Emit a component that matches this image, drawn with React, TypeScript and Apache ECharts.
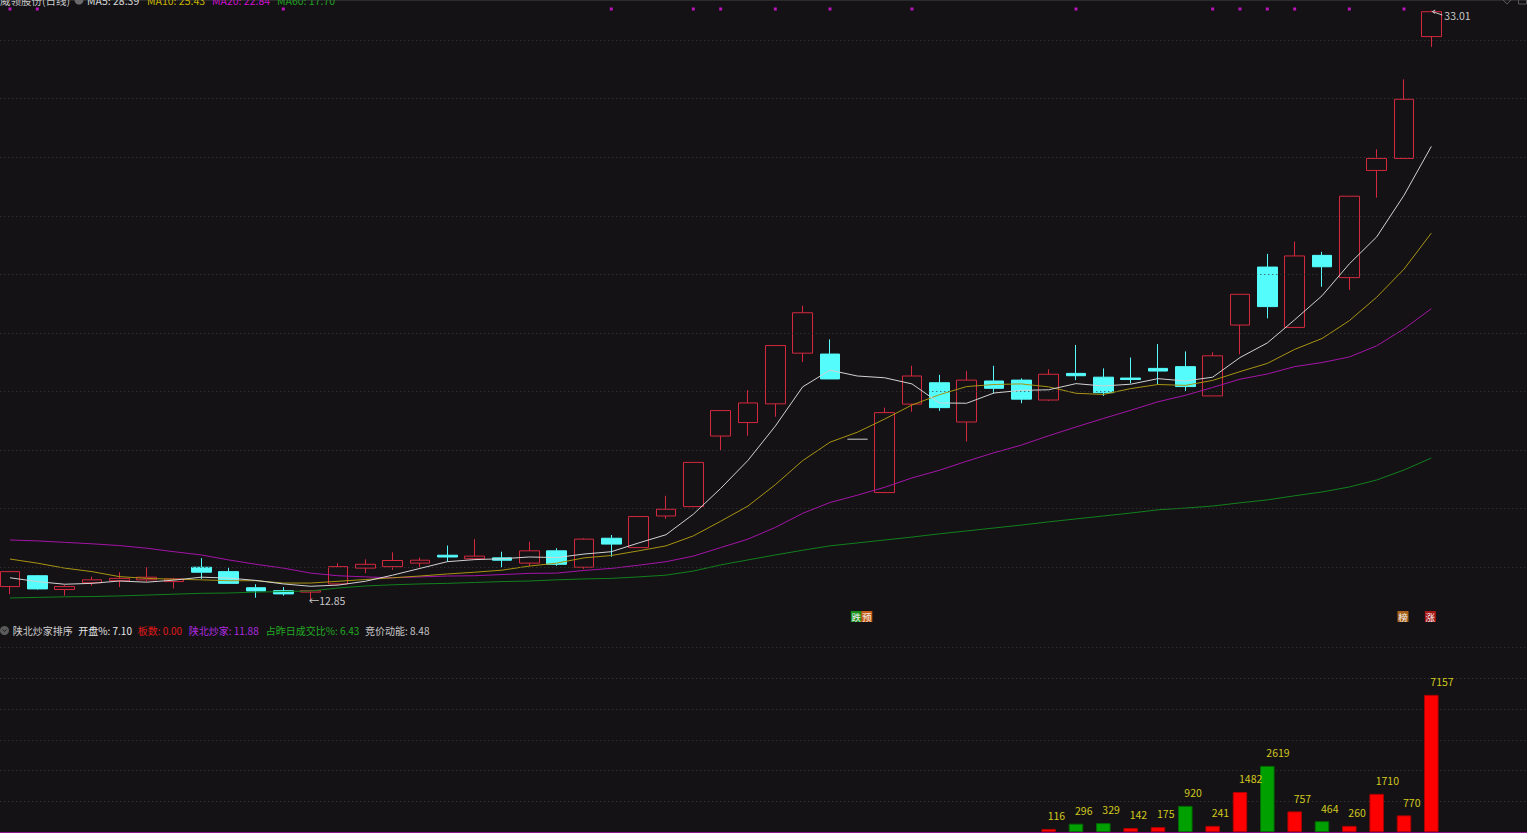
import React, { useEffect, useRef } from "react";
import * as echarts from "echarts";

// ---------------- data ----------------
const stockTitle = "威领股份(日线)";
const maNames = ["MA5", "MA10", "MA20", "MA60"];
const maHeaderValues = ["28.39", "25.43", "22.84", "17.70"];

const candleOpen = [
  13.34, 13.71, 13.24, 13.47, 13.54, 13.57, 13.51, 14.0, 13.85, 13.3,
  13.2, 13.15, 13.43, 13.97, 14.02, 14.14, 14.41, 14.29, 14.32, 14.14,
  14.56, 14.0, 14.99, 14.67, 15.75, 16.07, 18.48, 18.94, 19.58, 21.31,
  21.28, 18.37, 16.55, 19.57, 20.3, 18.96, 20.36, 20.39, 19.71, 20.62,
  20.49, 20.46, 20.79, 20.85, 19.85, 22.27, 24.25, 22.19, 24.65, 23.89,
  27.55, 27.96, 32.12,
];
const candleClose = [
  13.85, 13.26, 13.34, 13.57, 13.62, 13.66, 13.6, 13.83, 13.45, 13.19,
  13.09, 13.2, 14.02, 14.1, 14.23, 14.24, 14.35, 14.38, 14.24, 14.56,
  14.1, 14.96, 14.79, 15.73, 15.98, 17.58, 19.35, 19.61, 21.57, 22.69,
  20.43, 18.37, 19.28, 20.53, 19.45, 20.39, 20.11, 19.74, 20.59, 20.54,
  19.96, 20.41, 20.7, 20.17, 21.22, 23.32, 22.9, 24.63, 24.26, 26.67,
  27.96, 29.98, 32.97,
];
const candleLow = [
  13.08, 13.24, 13.03, 13.37, 13.32, 13.51, 13.27, 13.6, 13.43, 12.96,
  13.03, 12.85, 13.41, 13.8, 13.91, 14.0, 14.19, 14.25, 14.0, 14.04,
  14.05, 13.94, 14.36, 14.67, 15.65, 16.05, 18.0, 18.49, 19.14, 21.01,
  20.43, 18.37, 16.55, 19.31, 19.34, 18.29, 19.94, 19.6, 19.68, 20.39,
  19.85, 20.28, 20.25, 20.02, 19.85, 21.27, 22.5, 22.19, 23.58, 23.47,
  26.62, 27.96, 31.77,
];
const candleHigh = [
  13.87, 13.73, 13.39, 13.68, 13.83, 14.0, 13.64, 14.31, 13.99, 13.42,
  13.32, 13.21, 14.14, 14.27, 14.51, 14.33, 14.74, 14.96, 14.53, 14.87,
  14.65, 14.99, 15.1, 15.73, 16.44, 17.58, 19.35, 20.05, 21.57, 22.93,
  21.78, 18.37, 19.45, 20.88, 20.57, 20.7, 20.88, 20.45, 20.76, 21.59,
  20.79, 21.16, 21.62, 21.37, 21.34, 23.32, 24.7, 25.12, 24.77, 26.67,
  28.27, 30.66, 33.01,
];
const flatCandles = [31];

const ma5 = [
  13.64, 13.51, 13.42, 13.45, 13.53, 13.49, 13.56, 13.66, 13.63, 13.55,
  13.43, 13.35, 13.39, 13.52, 13.73, 13.96, 14.19, 14.26, 14.29, 14.35,
  14.33, 14.45, 14.53, 14.83, 15.11, 15.81, 16.69, 17.65, 18.82, 20.16,
  20.73, 20.53, 20.47, 20.26, 19.61, 19.6, 19.95, 20.04, 20.06, 20.27,
  20.19, 20.25, 20.44, 20.36, 20.49, 21.16, 21.66, 22.45, 23.27, 24.36,
  25.28, 26.7, 28.37,
];
const ma10 = [
  14.28, 14.14, 13.97, 13.85, 13.68, 13.62, 13.59, 13.57, 13.54, 13.54,
  13.46, 13.46, 13.52, 13.58, 13.64, 13.7, 13.77, 13.83, 13.9, 14.04,
  14.14, 14.32, 14.4, 14.56, 14.73, 15.07, 15.57, 16.09, 16.82, 17.64,
  18.27, 18.61, 19.06, 19.54, 19.89, 20.17, 20.24, 20.26, 20.16, 19.94,
  19.9, 20.1, 20.24, 20.21, 20.38, 20.68, 20.96, 21.44, 21.81, 22.42,
  23.22, 24.18, 25.41,
];
const ma20 = [
  14.93, 14.9, 14.85, 14.8, 14.74, 14.65, 14.53, 14.42, 14.25, 14.1,
  13.97, 13.8, 13.71, 13.67, 13.64, 13.67, 13.7, 13.71, 13.75, 13.79,
  13.8, 13.89, 13.96, 14.07, 14.19, 14.38, 14.67, 14.96, 15.36, 15.84,
  16.21, 16.46, 16.73, 17.05, 17.31, 17.62, 17.91, 18.17, 18.49, 18.79,
  19.08, 19.36, 19.65, 19.87, 20.14, 20.42, 20.6, 20.85, 20.99, 21.18,
  21.56, 22.14, 22.83,
];
const ma60 = [
  12.95, 12.97, 12.99, 13.0, 13.02, 13.05, 13.08, 13.11, 13.12, 13.15,
  13.17, 13.19, 13.29, 13.36, 13.4, 13.43, 13.45, 13.48, 13.51, 13.53,
  13.57, 13.6, 13.62, 13.67, 13.73, 13.87, 14.08, 14.25, 14.42, 14.58,
  14.73, 14.83, 14.93, 15.03, 15.14, 15.24, 15.34, 15.44, 15.55, 15.65,
  15.75, 15.85, 15.96, 16.02, 16.09, 16.2, 16.3, 16.44, 16.57, 16.74,
  16.98, 17.32, 17.73,
];
const priceGridTicks = [14, 16, 18, 20, 22, 24, 26, 28, 30, 32];
const signalDots = [0, 1, 10, 22, 25, 26, 28, 30, 33, 39, 44, 45, 46, 47, 49, 51];
const badges = [
  { index: 31, chars: ["跌", "预"], kinds: ["down", "warn"] },
  { index: 51, chars: ["榜"], kinds: ["rank"] },
  { index: 52, chars: ["涨"], kinds: ["up"] },
];
const highMark = { index: 52, value: 33.01 };
const lowMark = { index: 11, value: 12.85 };

const indicatorTitle = "陕北炒家排序";
const indicatorItems = [
  { name: "开盘%", value: "7.10" },
  { name: "板数", value: "0.00" },
  { name: "陕北炒家", value: "11.88" },
  { name: "占昨日成交比%", value: "6.43" },
  { name: "竞价动能", value: "8.48" },
];
const auctionStart = 38;
const auctionBars = [0.1, 0.27, 0.29, 0.13, 0.16, 0.85, 0.2, 1.3, 2.15, 0.67, 0.35, 0.2, 1.24, 0.54, 4.46];
const auctionLabels = [116, 296, 329, 142, 175, 920, 241, 1482, 2619, 757, 464, 260, 1710, 770, 7157];
const auctionUp = [true, false, false, true, true, false, true, true, false, true, false, true, true, true, true];

// ---------------- style ----------------
const W = 1527;
const H = 833;
const SLOTS = 56;
const BG = "#141215";
const RED = "#d4283e";
const CYAN = "#54fcfc";
const FLAT = "#9a9a9a";
const FONT = '"Noto Sans CJK SC", "Noto Sans", sans-serif';
const maColors = ["#d2d2d2", "#a89412", "#a414a8", "#12801e"];
const maHeaderColors = ["#d8d8d8", "#c8b400", "#cc10cc", "#20a020"];
const maHeaderX = [87, 147, 212, 277];
const indicatorColors = ["#e6e6e6", "#e01818", "#b02ae0", "#22aa22", "#c8c8c8"];
const indicatorX = [78.3, 137.7, 188.7, 265.7, 365];
const badgeColors: Record<string, string> = { down: "#168c18", warn: "#c85a16", rank: "#a8621a", up: "#a81616" };

const categories = Array.from({ length: SLOTS }, (_, i) => String(i + 1));

function buildOption(): any {
  const candleData = candleOpen.map((o, i) => {
    const v = [o, candleClose[i], candleLow[i], candleHigh[i]];
    if (flatCandles.includes(i)) {
      return { value: v, itemStyle: { color: FLAT, color0: FLAT, borderColor: FLAT, borderColor0: FLAT } };
    }
    return v;
  });
  const barData = candleOpen.map((_, i) => {
    if (i < auctionStart) return "-";
    const k = i - auctionStart;
    const up = auctionUp[k];
    return {
      value: auctionBars[k],
      itemStyle: { color: up ? "#ff0000" : "#00a000", borderColor: up ? "#b00000" : "#006a00", borderWidth: 1 },
    };
  });
  const maSeries = [ma5, ma10, ma20, ma60].map((d, k) => ({
    type: "line",
    name: maNames[k],
    xAxisIndex: 0,
    yAxisIndex: 0,
    data: d,
    symbol: "none",
    smooth: false,
    z: 5 - k * 0.1,
    lineStyle: { color: maColors[k], width: 1 },
  }));
  return {
    animation: false,
    backgroundColor: BG,
    grid: [
      { left: -3.7, right: 0, top: 0, height: 622, outerBoundsMode: "none", containLabel: false },
      { left: -3.7, right: 0, top: 647.5, height: 184.5, outerBoundsMode: "none", containLabel: false },
    ],
    xAxis: [
      {
        type: "category", gridIndex: 0, data: categories, boundaryGap: true,
        axisLine: { show: true, lineStyle: { color: "#2c2c2e", width: 1 } },
        axisTick: { show: false }, axisLabel: { show: false }, splitLine: { show: false },
      },
      {
        type: "category", gridIndex: 1, data: categories, boundaryGap: true,
        axisLine: { show: true, lineStyle: { color: "#8a168a", width: 1 } },
        axisTick: { show: false }, axisLabel: { show: false }, splitLine: { show: false },
      },
    ],
    yAxis: [
      { type: "value", gridIndex: 0, min: 12.13, max: 33.37, show: false, splitLine: { show: false } },
      { type: "value", gridIndex: 0, min: 0, max: 622, inverse: true, show: false, splitLine: { show: false } },
      {
        type: "value", gridIndex: 1, min: 0, max: 6, interval: 1,
        axisLine: { show: false }, axisTick: { show: false }, axisLabel: { show: false },
        splitLine: { show: true, lineStyle: { color: "#3a3a3c", type: [1, 3], width: 1 } },
      },
    ],
    series: [
      {
        type: "candlestick",
        xAxisIndex: 0,
        yAxisIndex: 0,
        barWidth: 20,
        data: candleData,
        z: 3,
        itemStyle: { color: "transparent", color0: CYAN, borderColor: RED, borderColor0: CYAN, borderWidth: 1 },
        markLine: {
          silent: true,
          symbol: "none",
          label: { show: false },
          lineStyle: { color: "#3a3a3c", type: [1, 3], width: 1 },
          data: priceGridTicks.map((v) => ({ yAxis: v })),
        },
      },
      ...maSeries,
      {
        type: "scatter",
        xAxisIndex: 0,
        yAxisIndex: 1,
        symbol: "rect",
        symbolSize: 3,
        itemStyle: { color: "#e414e4" },
        data: signalDots.map((i) => [i, 9]),
        z: 6,
      },
      {
        type: "bar",
        xAxisIndex: 1,
        yAxisIndex: 2,
        barWidth: 14.5,
        data: barData,
        label: {
          show: true,
          position: "top",
          distance: 8,
          align: "left",
          offset: [-1, 0],
          color: "#d2c81e",
          fontSize: 10.5,
          fontFamily: FONT,
          formatter: (p: any) => String(auctionLabels[p.dataIndex - auctionStart]),
        },
      },
    ],
  };
}

function headerGraphics(): any[] {
  const g: any[] = [];
  const txt = (x: number, y: number, text: string, fill: string, size = 10.5, align = "left") => ({
    type: "text",
    x,
    y,
    silent: true,
    style: { text, fill, font: `${size}px ${FONT}`, align, verticalAlign: "middle" },
    z: 100,
  });
  g.push(txt(0, 0.5, stockTitle, "#c8c8c8"));
  g.push({ type: "circle", shape: { cx: 79, cy: 0, r: 4.5 }, style: { fill: "#6a6a6a" }, silent: true, z: 100 });
  maNames.forEach((n, k) => g.push(txt(maHeaderX[k], 0.5, `${n}: ${maHeaderValues[k]}`, maHeaderColors[k])));
  // top-right icons
  g.push({ type: "polyline", shape: { points: [[1502, -1], [1507, 4], [1512, -1]] }, style: { stroke: "#5a5a5a", fill: "none", lineWidth: 1 }, silent: true, z: 100 });
  g.push({ type: "rect", shape: { x: 1518.5, y: -5, width: 8, height: 9 }, style: { stroke: "#5a5a5a", fill: "none", lineWidth: 1 }, silent: true, z: 100 });
  // indicator header
  g.push({ type: "circle", shape: { cx: 4.5, cy: 630.5, r: 4.5 }, style: { fill: "#5a5a5a" }, silent: true, z: 100 });
  g.push({ type: "polyline", shape: { points: [[2.5, 629.5], [4.5, 631.5], [6.5, 629.5]] }, style: { stroke: "#1a1a1a", fill: "none", lineWidth: 1 }, silent: true, z: 101 });
  g.push(txt(12.7, 630.5, indicatorTitle, "#d0d0d0", 10));
  indicatorItems.forEach((it, k) => g.push(txt(indicatorX[k], 630.5, `${it.name}: ${it.value}`, indicatorColors[k], 10)));
  return g;
}

export default function App() {
  const ref = useRef<HTMLDivElement>(null);
  useEffect(() => {
    const el = ref.current;
    if (!el) return;
    const chart = echarts.init(el, null, { renderer: "svg", width: W, height: H });
    chart.setOption(buildOption());
    const toPx = (i: number, v: number) => chart.convertToPixel({ xAxisIndex: 0, yAxisIndex: 0 } as any, [i, v]) as number[];
    const g = headerGraphics();
    // high label with arrow
    const [hx, hy] = toPx(highMark.index, highMark.value);
    g.push({ type: "line", shape: { x1: hx + 1, y1: hy + 1, x2: hx + 11, y2: hy + 4.5 }, style: { stroke: "#c8c8c8", lineWidth: 1 }, silent: true, z: 100 });
    g.push({ type: "polyline", shape: { points: [[hx + 4, hy - 0.5], [hx + 1, hy + 1], [hx + 3.5, hy + 3]] }, style: { stroke: "#c8c8c8", fill: "none", lineWidth: 1 }, silent: true, z: 100 });
    g.push({ type: "text", x: hx + 13, y: hy + 5, silent: true, z: 100, style: { text: highMark.value.toFixed(2), fill: "#c8c8c8", font: `10.5px ${FONT}`, align: "left", verticalAlign: "middle" } });
    // low label
    const [lx, ly] = toPx(lowMark.index, lowMark.value);
    g.push({ type: "text", x: lx - 2, y: ly, silent: true, z: 100, style: { text: "←" + lowMark.value.toFixed(2), fill: "#c8c8c8", font: `10.5px ${FONT}`, align: "left", verticalAlign: "middle" } });
    // badges
    badges.forEach((b) => {
      const [bx] = toPx(b.index, 20);
      b.chars.forEach((c, k) => {
        const cx = bx - 1 + k * 10.5;
        g.push({ type: "rect", shape: { x: cx - 5.5, y: 611, width: 11, height: 11 }, style: { fill: badgeColors[b.kinds[k]] }, silent: true, z: 100 });
        g.push({ type: "text", x: cx, y: 616.5, silent: true, z: 101, style: { text: c, fill: "#f0f0f0", font: `9.5px ${FONT}`, align: "center", verticalAlign: "middle" } });
      });
    });
    chart.setOption({ graphic: g });
    return () => chart.dispose();
  }, []);
  return <div ref={ref} style={{ position: "fixed", left: 0, top: 0, width: W, height: H }} />;
}
